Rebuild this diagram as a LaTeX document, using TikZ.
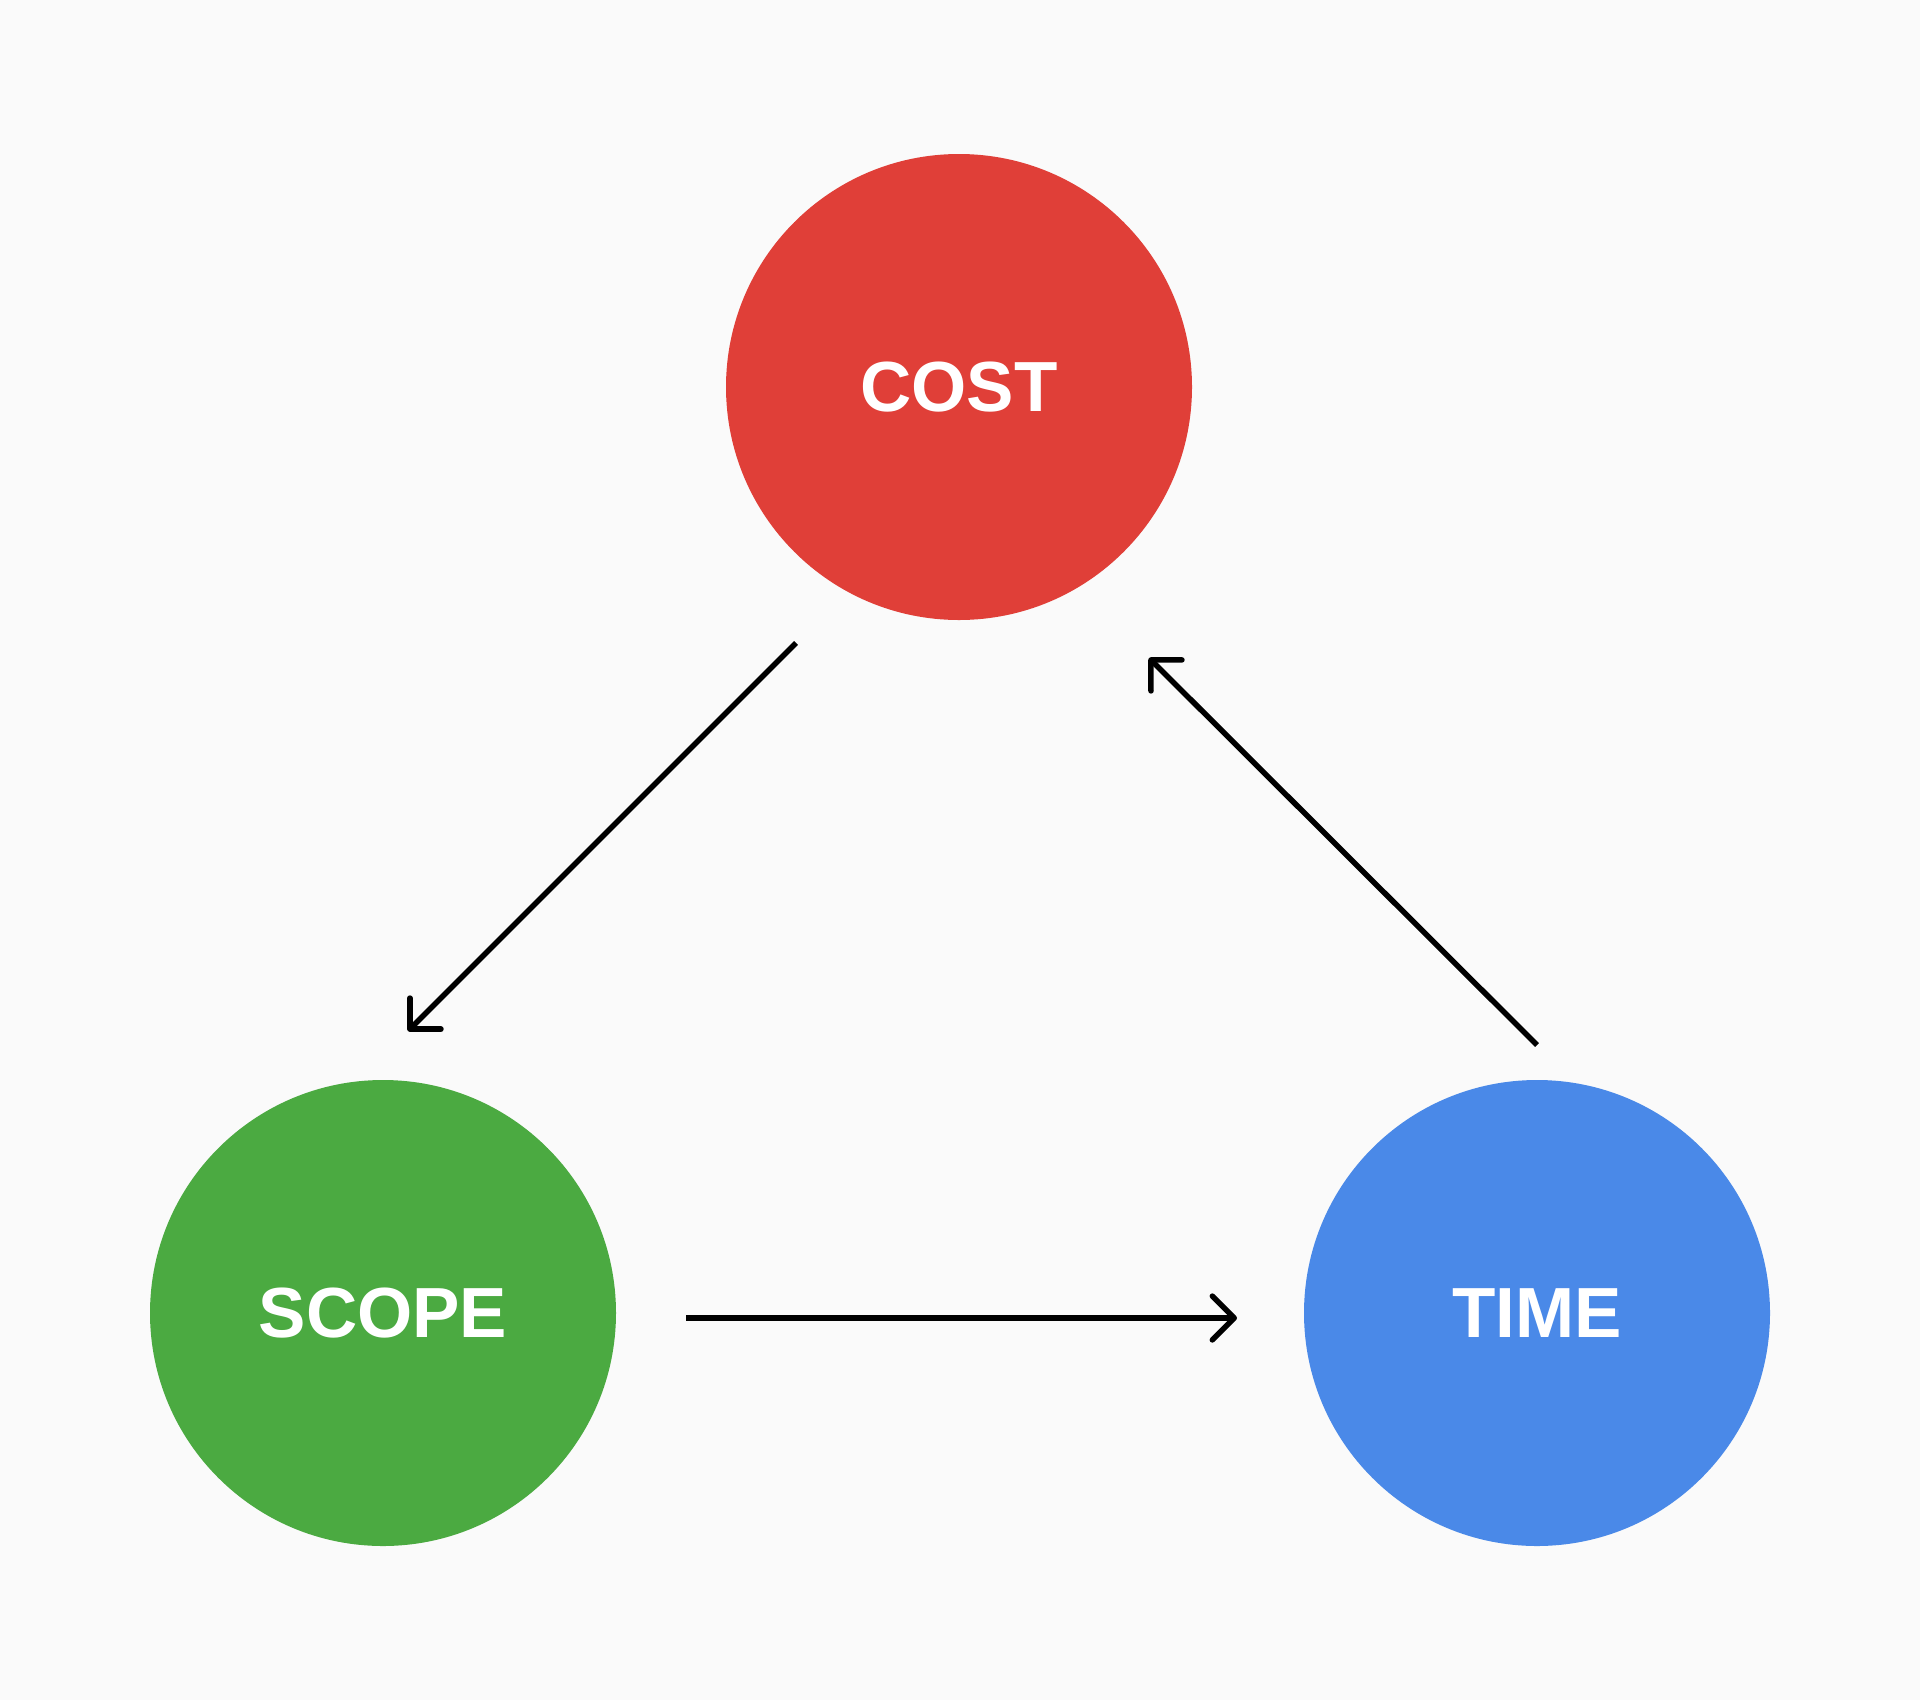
\documentclass[tikz,border=0pt]{standalone}
\usepackage{fontspec}
\setmainfont{Liberation Sans}
\usetikzlibrary{arrows.meta}
\definecolor{bgcol}{HTML}{FAFAFA}
\definecolor{costred}{HTML}{E03F38}
\definecolor{scopegreen}{HTML}{4BAA41}
\definecolor{timeblue}{HTML}{4A89E8}
\tikzset{
  ball/.style={circle, minimum size=466pt, inner sep=0pt, text=white,
    font=\fontsize{71}{71}\selectfont\bfseries},
  flow/.style={line width=5.5pt, -{Straight Barb[angle=90:31pt, round]}}
}
\begin{document}
\begin{tikzpicture}[x=1pt,y=-1pt]
				\fill[bgcol] (0,0) rectangle (1920,1700);
				\useasboundingbox (0,0) rectangle (1920,1700);
				\node[ball, fill=costred] (cost) at (959,387) {COST};
				\node[ball, fill=scopegreen] (scope) at (383,1313) {SCOPE};
				\node[ball, fill=timeblue] (time) at (1537,1313) {TIME};
				\coordinate (c1) at (796,643);
				\coordinate (s1) at (408,1031);
				\coordinate (s2) at (686,1318);
				\coordinate (t1) at (1237,1318);
				\coordinate (t2) at (1537,1045);
				\coordinate (c2) at (1149,658);
				\draw[flow] (c1) -- (s1);
				\draw[flow] (s2) -- (t1);
				\draw[flow] (t2) -- (c2);
\end{tikzpicture}
\end{document}
